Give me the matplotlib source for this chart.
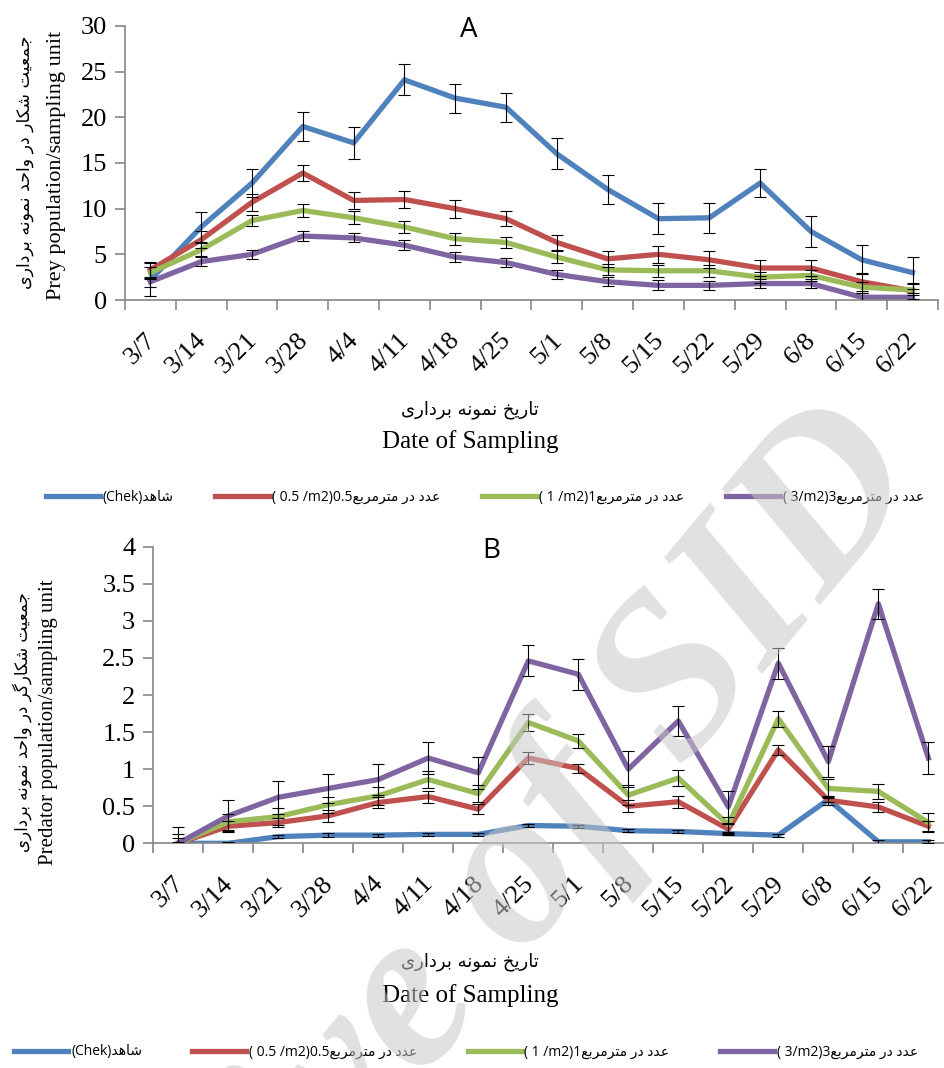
import numpy as np
import matplotlib
matplotlib.use("Agg")
import matplotlib.pyplot as plt
from matplotlib.ticker import FixedLocator, FuncFormatter

# fechas de muestreo
fechas = ["3/7", "3/14", "3/21", "3/28", "4/4", "4/11", "4/18", "4/25",
          "5/1", "5/8", "5/15", "5/22", "5/29", "6/8", "6/15", "6/22"]

# A: presa por unidad de muestreo
presa_chek = [2.2, 8.0, 12.8, 19.0, 17.2, 24.1, 22.1, 21.1, 16.0, 12.1, 8.9, 9.0, 12.8, 7.5, 4.4, 3.0]
presa_05 = [3.3, 6.6, 10.7, 13.9, 10.9, 11.0, 10.0, 8.9, 6.3, 4.5, 5.0, 4.4, 3.5, 3.5, 2.0, 1.0]
presa_1 = [3.0, 5.5, 8.7, 9.8, 9.0, 8.0, 6.7, 6.3, 4.7, 3.3, 3.2, 3.2, 2.5, 2.7, 1.4, 1.1]
presa_3 = [2.0, 4.2, 5.0, 7.0, 6.8, 6.0, 4.7, 4.1, 2.8, 2.0, 1.6, 1.6, 1.8, 1.8, 0.3, 0.3]

err_presa_chek = [1.8, 1.65, 1.5, 1.6, 1.75, 1.7, 1.6, 1.6, 1.7, 1.6, 1.7, 1.65, 1.5, 1.7, 1.6, 1.75]
err_presa_05 = [0.9, 0.95, 0.95, 0.9, 0.9, 0.95, 1.0, 0.85, 0.85, 0.85, 0.9, 0.95, 0.9, 0.9, 1.0, 0.9]
err_presa_1 = [0.65, 0.7, 0.6, 0.7, 0.7, 0.7, 0.65, 0.6, 0.65, 0.6, 0.65, 0.65, 0.6, 0.6, 0.6, 0.6]
err_presa_3 = [0.55, 0.5, 0.5, 0.55, 0.5, 0.55, 0.5, 0.5, 0.5, 0.5, 0.55, 0.5, 0.5, 0.5, 0.5, 0.5]

# B: depredador por unidad de muestreo
depr_chek = [0.0, 0.0, 0.09, 0.11, 0.11, 0.12, 0.12, 0.24, 0.23, 0.17, 0.16, 0.13, 0.11, 0.59, 0.02, 0.02]
depr_05 = [0.0, 0.23, 0.28, 0.37, 0.55, 0.63, 0.46, 1.15, 1.01, 0.50, 0.56, 0.19, 1.26, 0.58, 0.49, 0.23]
depr_1 = [0.0, 0.29, 0.36, 0.52, 0.64, 0.86, 0.67, 1.63, 1.38, 0.65, 0.88, 0.25, 1.68, 0.74, 0.70, 0.28]
depr_3 = [0.0, 0.37, 0.62, 0.74, 0.86, 1.15, 0.95, 2.46, 2.28, 1.00, 1.65, 0.49, 2.43, 1.10, 3.23, 1.15]

err_depr_chek = [0.02, 0.02, 0.02, 0.03, 0.02, 0.02, 0.02, 0.02, 0.02, 0.02, 0.02, 0.02, 0.02, 0.03, 0.03, 0.02]
err_depr_05 = [0.07, 0.07, 0.06, 0.08, 0.08, 0.08, 0.07, 0.08, 0.06, 0.08, 0.08, 0.07, 0.07, 0.06, 0.07, 0.07]
err_depr_1 = [0.13, 0.11, 0.11, 0.11, 0.12, 0.12, 0.11, 0.12, 0.10, 0.13, 0.11, 0.11, 0.11, 0.13, 0.10, 0.13]
err_depr_3 = [0.22, 0.22, 0.22, 0.20, 0.21, 0.22, 0.22, 0.21, 0.21, 0.24, 0.20, 0.21, 0.21, 0.21, 0.20, 0.22]

colores = ["#4F81BD", "#C0504D", "#9BBB59", "#8064A2"]

# formas de presentacion para escribir el persa sin reshaper
FORMAS = {
    "ا": ("\uFE8D", "\uFE8E", None, None),
    "ب": ("\uFE8F", "\uFE90", "\uFE91", "\uFE92"),
    "ت": ("\uFE95", "\uFE96", "\uFE97", "\uFE98"),
    "ج": ("\uFE9D", "\uFE9E", "\uFE9F", "\uFEA0"),
    "ح": ("\uFEA1", "\uFEA2", "\uFEA3", "\uFEA4"),
    "خ": ("\uFEA5", "\uFEA6", "\uFEA7", "\uFEA8"),
    "د": ("\uFEA9", "\uFEAA", None, None),
    "ر": ("\uFEAD", "\uFEAE", None, None),
    "ش": ("\uFEB5", "\uFEB6", "\uFEB7", "\uFEB8"),
    "ع": ("\uFEC9", "\uFECA", "\uFECB", "\uFECC"),
    "ک": ("\uFB8E", "\uFB8F", "\uFB90", "\uFB91"),
    "گ": ("\uFB92", "\uFB93", "\uFB94", "\uFB95"),
    "م": ("\uFEE1", "\uFEE2", "\uFEE3", "\uFEE4"),
    "ن": ("\uFEE5", "\uFEE6", "\uFEE7", "\uFEE8"),
    "ه": ("\uFEE9", "\uFEEA", "\uFEEB", "\uFEEC"),
    "و": ("\uFEED", "\uFEEE", None, None),
    "ی": ("\uFBFC", "\uFBFD", "\uFBFE", "\uFBFF"),
}


def forma_palabra(p):
    out = []
    for i, c in enumerate(p):
        f = FORMAS[c]
        antes = i > 0 and FORMAS[p[i - 1]][2] is not None
        despues = f[2] is not None and i < len(p) - 1
        if antes and despues:
            out.append(f[3])
        elif antes:
            out.append(f[1])
        elif despues:
            out.append(f[2])
        else:
            out.append(f[0])
    return "".join(out)


def fa(texto):
    return " ".join(forma_palabra(p)[::-1] for p in reversed(texto.split()))


serif = "Liberation Serif"
fam_fa = ["DejaVu Sans"]
fam_leg = ["Open Sans", "DejaVu Sans"]

etiquetas = ["(Chek)" + fa("شاهد"),
             "( 0.5 /m2)0.5" + fa("عدد در مترمربع"),
             "( 1 /m2)1" + fa("عدد در مترمربع"),
             "( 3/m2)3" + fa("عدد در مترمربع")]

fig = plt.figure(figsize=(9.44, 10.68), dpi=100)
axA = fig.add_axes([0.1324, 0.7191, 0.8612, 0.2566])
axB = fig.add_axes([0.1624, 0.2104, 0.8475, 0.2777])

x = np.arange(len(fechas))


def dibujar(ax, series, errores, ymax, paso, letra, pad_fechas):
    lineas = []
    for s, e, c, lab in zip(series, errores, colores, etiquetas):
        ln, = ax.plot(x, s, color=c, lw=3.8, label=lab, zorder=2)
        ax.errorbar(x, s, yerr=e, fmt="none", ecolor="black", elinewidth=0.8,
                    capsize=4.5, capthick=0.8, zorder=3)
        lineas.append(ln)
    ax.set_xlim(-0.5, len(fechas) - 0.5)
    ax.set_ylim(0, ymax)
    ax.set_yticks(np.arange(0, ymax + paso / 2, paso))
    ax.yaxis.set_major_formatter(FuncFormatter(lambda v, p: "%g" % v))
    # marcas entre categorias, etiquetas (un poco a la izquierda) en el centro
    ax.xaxis.set_major_locator(FixedLocator(np.arange(-0.5, len(fechas), 1)))
    ax.xaxis.set_minor_locator(FixedLocator(x - 0.12))
    ax.set_xticklabels([], minor=False)
    ax.set_xticklabels(fechas, minor=True, rotation=45, ha="right", va="top",
                       rotation_mode="anchor", fontsize=19, family=serif)
    ax.tick_params(axis="x", which="minor", length=0, pad=pad_fechas)
    ax.tick_params(axis="x", which="major", length=7, width=1.2, color="#868686")
    ax.tick_params(axis="y", length=7, width=1.2, color="#868686", pad=6,
                   labelsize=19)
    for t in ax.get_yticklabels():
        t.set_family(serif)
    for lado in ["top", "right"]:
        ax.spines[lado].set_visible(False)
    for lado in ["left", "bottom"]:
        ax.spines[lado].set_color("#868686")
        ax.spines[lado].set_linewidth(1.2)
    ax.text(0.423, 0.985, letra, transform=ax.transAxes, ha="center", va="center",
            fontsize=20, family="Open Sans")
    return lineas


linA = dibujar(axA, [presa_chek, presa_05, presa_1, presa_3],
               [err_presa_chek, err_presa_05, err_presa_1, err_presa_3], 30, 5, "A", 21)
linB = dibujar(axB, [depr_chek, depr_05, depr_1, depr_3],
               [err_depr_chek, err_depr_05, err_depr_1, err_depr_3], 4, 0.5, "B", 21)

# titulos de ejes
H = 1068.0
W = 944.0
fig.text(25 / W, 1 - 162 / H, fa("جمعیت شکار در واحد نمونه برداری"), rotation=90,
         ha="center", va="center", fontsize=12.5, family=fam_fa)
fig.text(56 / W, 1 - 165 / H, "Prey population/sampling unit", rotation=90,
         ha="center", va="center", fontsize=16, family=serif)
fig.text(470 / W, 1 - 410 / H, fa("تاریخ نمونه برداری"), ha="center", va="center",
         fontsize=13, family=fam_fa)
fig.text(470 / W, 1 - 442 / H, "Date of Sampling", ha="center", va="center",
         fontsize=18, family=serif)

fig.text(22 / W, 1 - 722 / H, fa("جمعیت شکارگر در واحد نمونه برداری"), rotation=90,
         ha="center", va="center", fontsize=12, family=fam_fa)
fig.text(49 / W, 1 - 722 / H, "Predator population/sampling unit", rotation=90,
         ha="center", va="center", fontsize=15, family=serif)
fig.text(470 / W, 1 - 962 / H, fa("تاریخ نمونه برداری"), ha="center", va="center",
         fontsize=13, family=fam_fa)
fig.text(470 / W, 1 - 996 / H, "Date of Sampling", ha="center", va="center",
         fontsize=18, family=serif)

# leyendas
for lineas, yl, xl, esp in [(linA, 497, 485, 3.0), (linB, 1052, 466, 3.6)]:
    fig.legend(handles=lineas, loc="center", bbox_to_anchor=(xl / W, 1 - yl / H),
               ncol=4, frameon=False, handlelength=3.9, handletextpad=0.2,
               columnspacing=esp, prop={"family": fam_leg, "size": 10})

# marca de agua
fig.text(432 / W, 1 - 995 / H, "Archive of SID", rotation=50, ha="center", va="center",
         fontsize=165, family=serif, style="italic", weight="bold",
         color="#c8c8c8", alpha=0.55, zorder=10)

fig.savefig("out.png", dpi=100)
